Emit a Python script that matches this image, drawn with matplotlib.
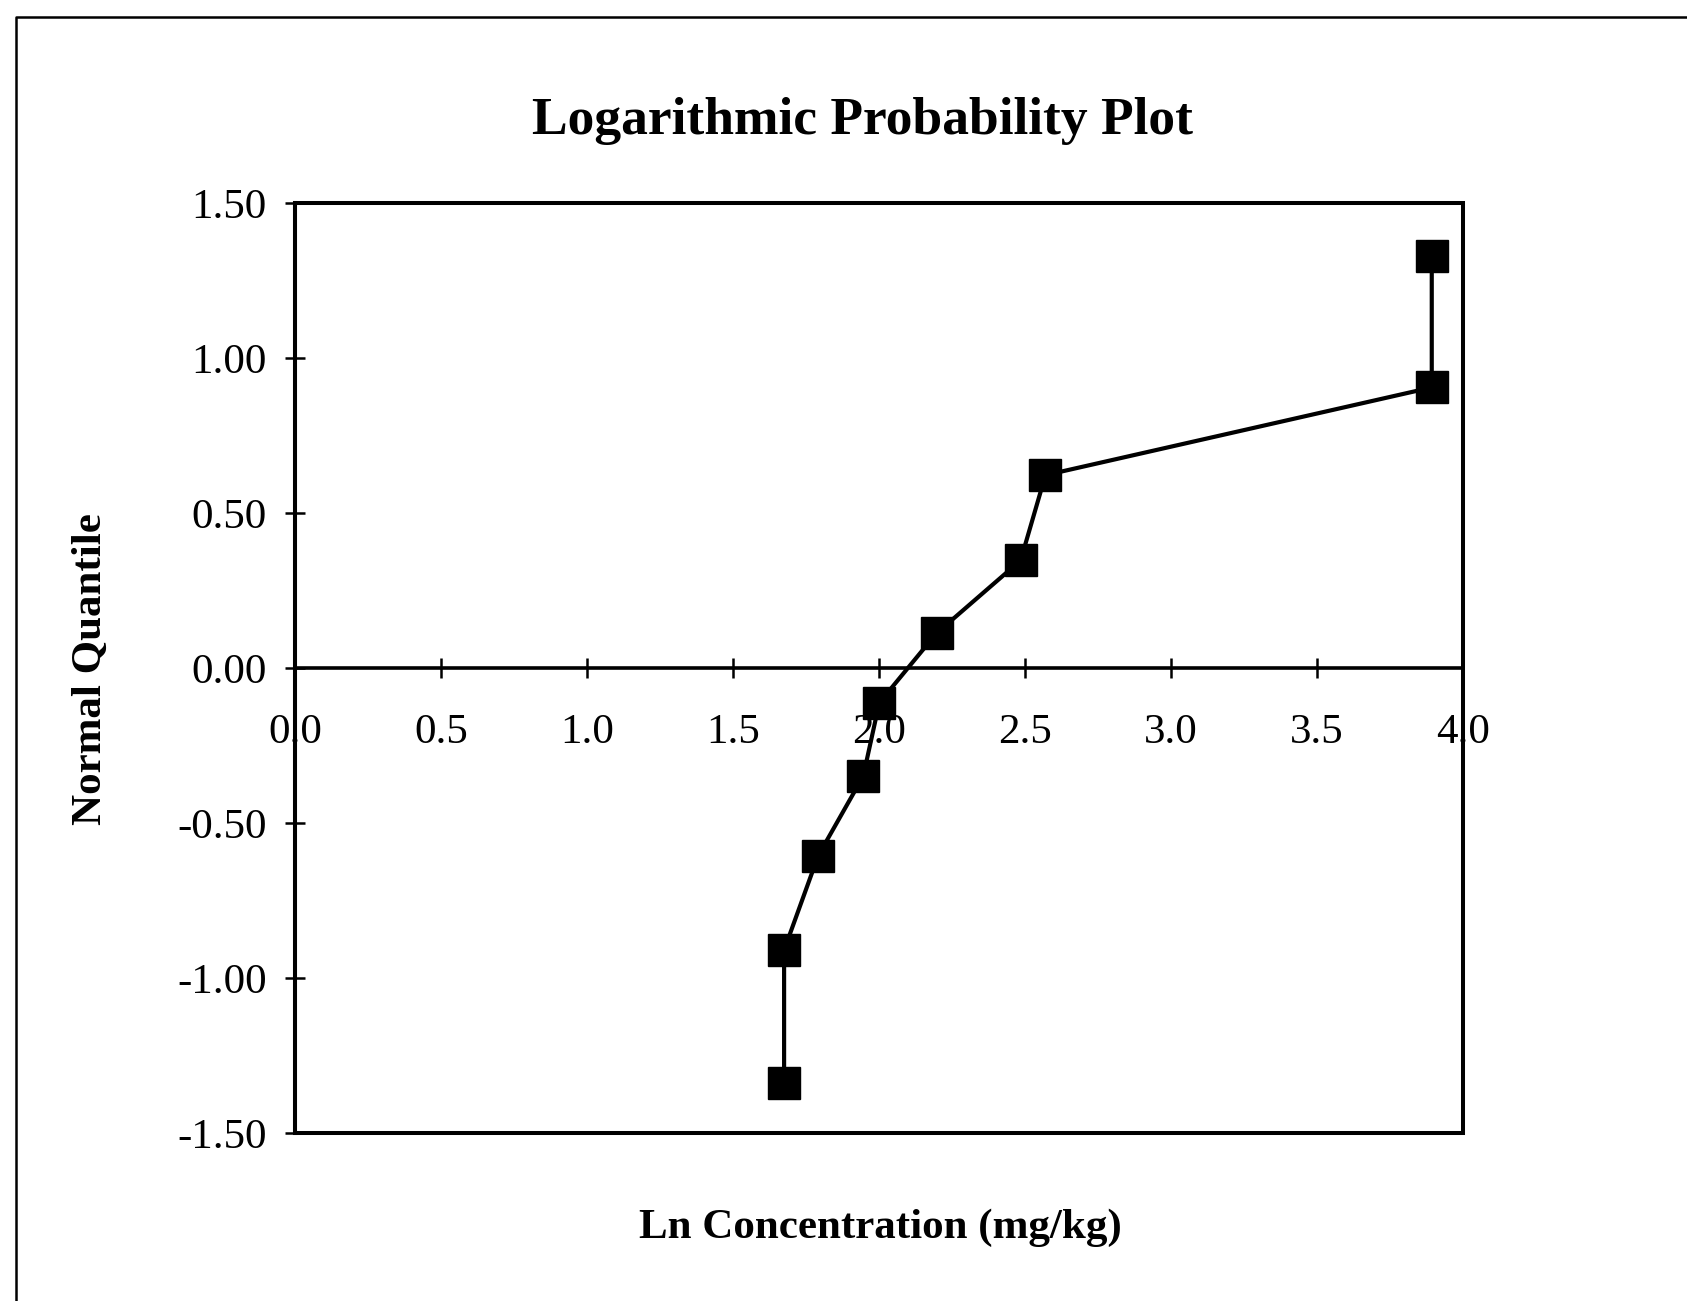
import matplotlib
matplotlib.use("Agg")
import matplotlib.pyplot as plt
from matplotlib.patches import Rectangle
from matplotlib.lines import Line2D

# Data
ln_conc = [1.675, 1.675, 1.792, 1.946, 2.001, 2.197, 2.485, 2.570, 3.893, 3.893]
normal_quantile = [-1.338, -0.910, -0.605, -0.349, -0.112, 0.112, 0.347, 0.622, 0.905, 1.330]
x_ticks = [0.0, 0.5, 1.0, 1.5, 2.0, 2.5, 3.0, 3.5, 4.0]
x_tick_labels = ["0.0", "0.5", "1.0", "1.5", "2.0", "2.5", "3.0", "3.5", "4.0"]
y_ticks = [-1.5, -1.0, -0.5, 0.0, 0.5, 1.0, 1.5]
y_tick_labels = ["-1.50", "-1.00", "-0.50", "0.00", "0.50", "1.00", "1.50"]

title = "Logarithmic Probability Plot"
xlabel = "Ln Concentration (mg/kg)"
ylabel = "Normal Quantile"

plt.rcParams['font.family'] = ['Liberation Serif', 'DejaVu Serif']

W, H = 1687, 1301
fig = plt.figure(figsize=(W / 100, H / 100), dpi=100)
fig.patch.set_facecolor("white")

ax = fig.add_axes([295 / W, 1 - 1133 / H, (1463 - 295) / W, (1133 - 203) / H])
ax.set_xlim(0, 4)
ax.set_ylim(-1.5, 1.5)

ax.plot(ln_conc, normal_quantile, color="black", lw=3.0, marker="s",
        markersize=23, markerfacecolor="black", markeredgecolor="black",
        zorder=5, clip_on=False)

# Spines: x axis crosses at y=0, box around plot area
for s in ["top", "right"]:
    ax.spines[s].set_visible(False)
ax.spines["bottom"].set_position(("data", 0))
ax.spines["bottom"].set_linewidth(2.6)
ax.spines["left"].set_linewidth(2.9)
ax.add_patch(Rectangle((0, 0), 1, 1, transform=ax.transAxes, fill=False,
                       lw=2.9, edgecolor="black", clip_on=False, zorder=4))

ax.set_xticks(x_ticks)
ax.set_xticklabels(x_tick_labels)
ax.set_yticks(y_ticks)
ax.set_yticklabels(y_tick_labels)
ax.tick_params(axis="x", direction="inout", length=15, width=1.8, pad=25,
               labelsize=31)
ax.tick_params(axis="y", direction="inout", length=15, width=1.8, pad=13,
               labelsize=31)

fig.text(863 / W, 1 - 121 / H, title, ha="center", va="center",
         fontsize=38.5, fontweight="bold")
fig.text(880 / W, 1 - 1228 / H, xlabel, ha="center", va="center",
         fontsize=31, fontweight="bold")
fig.text(91 / W, 1 - 669 / H, ylabel, ha="center", va="center",
         fontsize=31, fontweight="bold", rotation=90)

# Outer chart border (extends off the right and bottom edges)
fig.add_artist(Line2D([16 / W, 16 / W, 1.0], [0.0, 1 - 17 / H, 1 - 17 / H],
                      transform=fig.transFigure, color="black", lw=1.8))

fig.savefig("out.png", dpi=100)
